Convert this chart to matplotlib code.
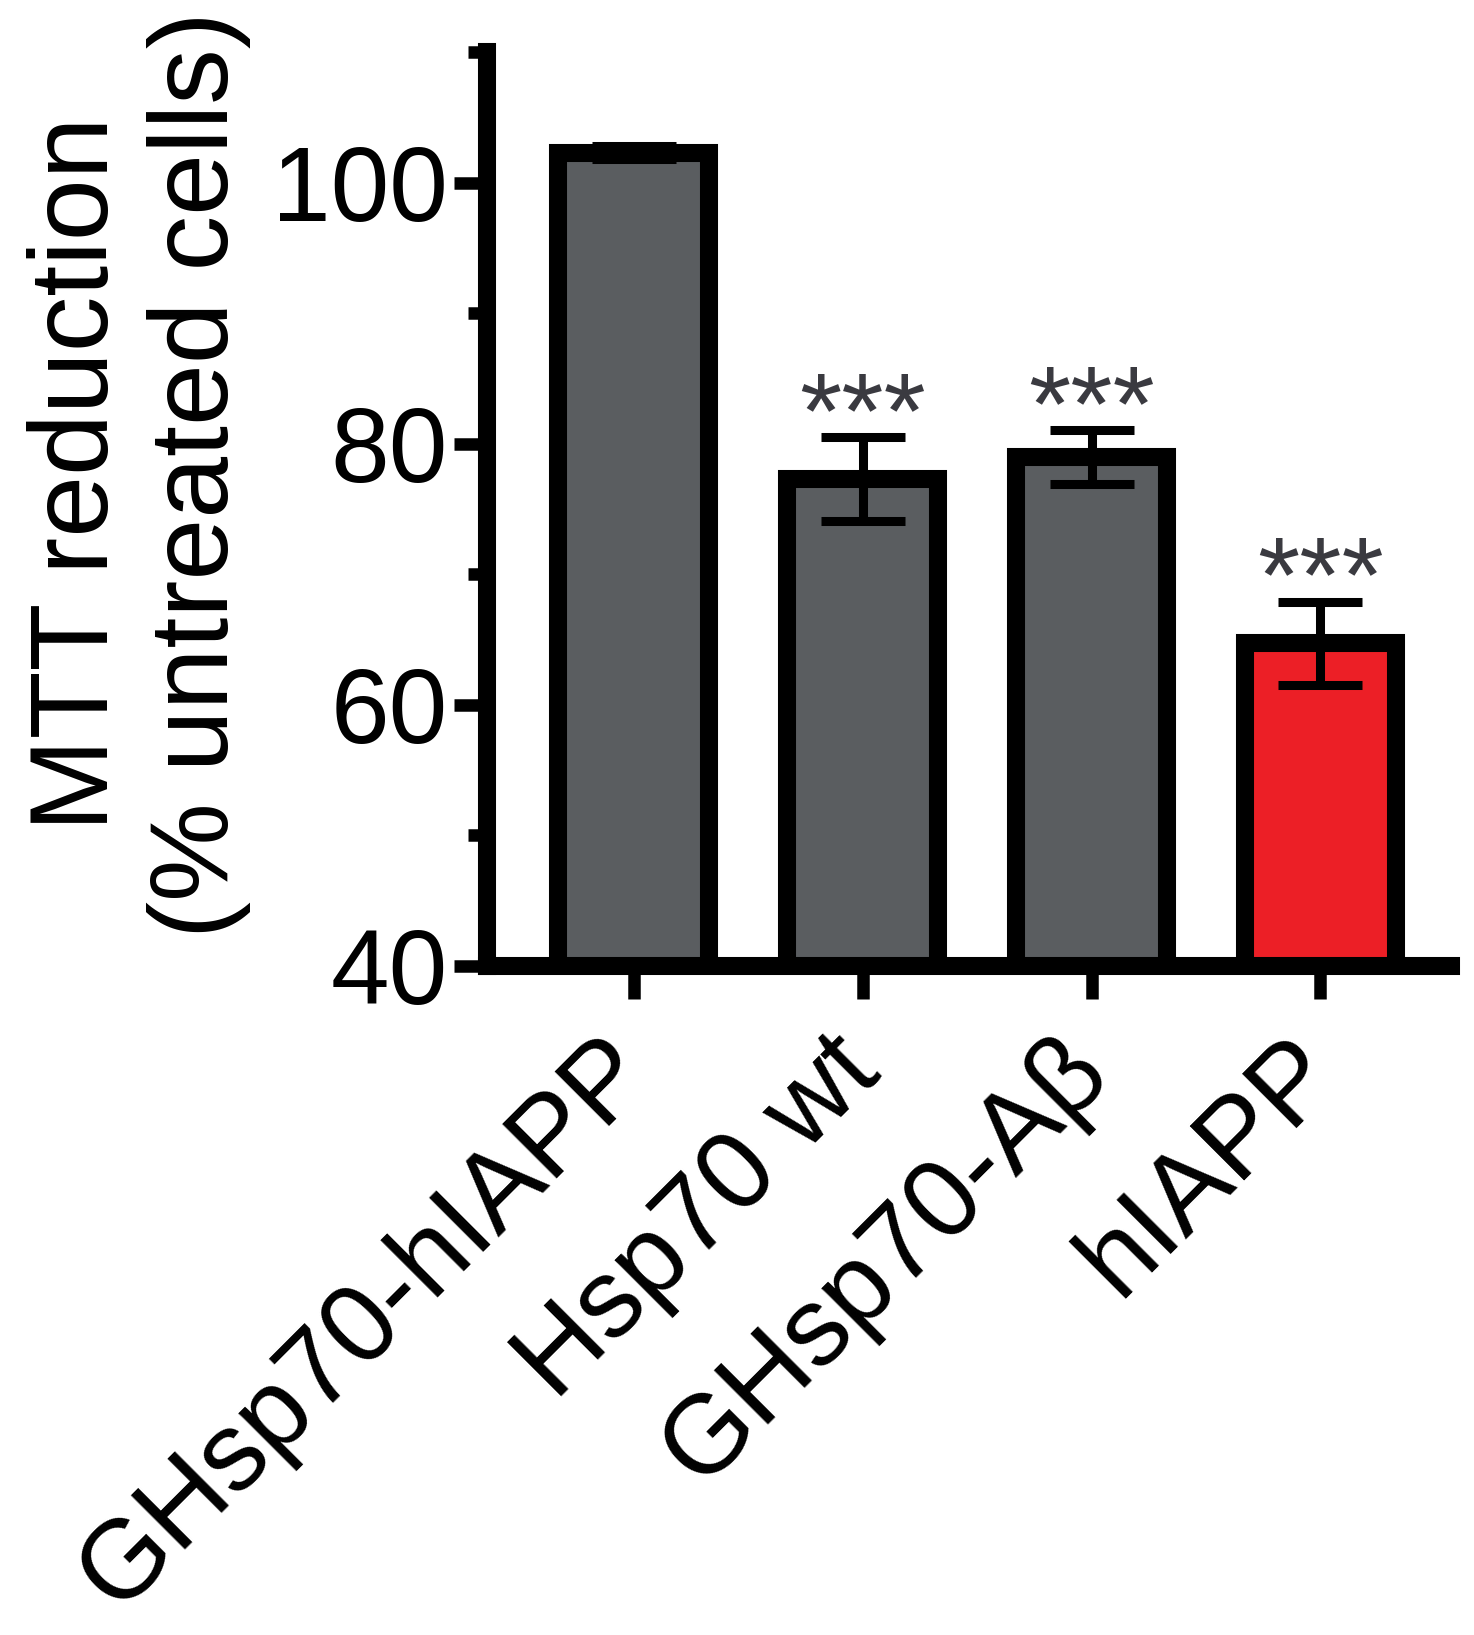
import numpy as np
from matplotlib import pyplot as plt

# data
groups = ['GHsp70-hIAPP', 'Hsp70 wt', 'GHsp70-A\u03b2', 'hIAPP']
means = [102.3, 77.3, 79.0, 64.7]
errs = [0.5, 3.2, 2.05, 3.2]
signif = ['', '***', '***', '***']
colors = ['#5a5d60', '#5a5d60', '#5a5d60', '#ec1f26']

plt.rc('font', family=['Liberation Sans', 'DejaVu Sans'])

fig = plt.figure(figsize=(14.74, 16.35), dpi=100)
ax = fig.add_axes([0.3304, 0.4092, 0.654, 0.559])

x = np.arange(len(groups))
ax.bar(x, means, width=0.66, color=colors, edgecolor='black',
       linewidth=13, zorder=2)
ax.errorbar(x, means, yerr=errs, fmt='none', ecolor='black', elinewidth=6.5,
            capsize=30, capthick=6.5, zorder=3)

for xi, m, e, s in zip(x, means, errs, signif):
    if s:
        ax.annotate(s, (xi, m + e), xytext=(0, -7), textcoords='offset points',
                    ha='center', va='baseline', fontsize=78, color='#3a3a40')

ax.set_ylim(40, 110)
ax.set_xlim(-0.64, 3.57)
ax.set_yticks([40, 60, 80, 100])
ax.set_yticks([50, 70, 90, 110], minor=True)
ax.set_xticks(x)
ax.set_xticklabels(groups, rotation=45, ha='right', va='center',
                   rotation_mode='anchor')

for side in ['top', 'right']:
    ax.spines[side].set_visible(False)
for side in ['left', 'bottom']:
    ax.spines[side].set_linewidth(13)
    ax.spines[side].set_capstyle('projecting')

ax.tick_params(axis='both', which='major', length=24, width=9, labelsize=76, pad=4)
ax.tick_params(axis='y', which='minor', length=14, width=9)
ax.tick_params(axis='x', which='major', labelsize=80, pad=40)

ax.set_ylabel('MTT reduction\n(% untreated cells)', fontsize=80)
ax.yaxis.set_label_coords(-0.245, 0.538)

fig.savefig('out.png', dpi=100)
